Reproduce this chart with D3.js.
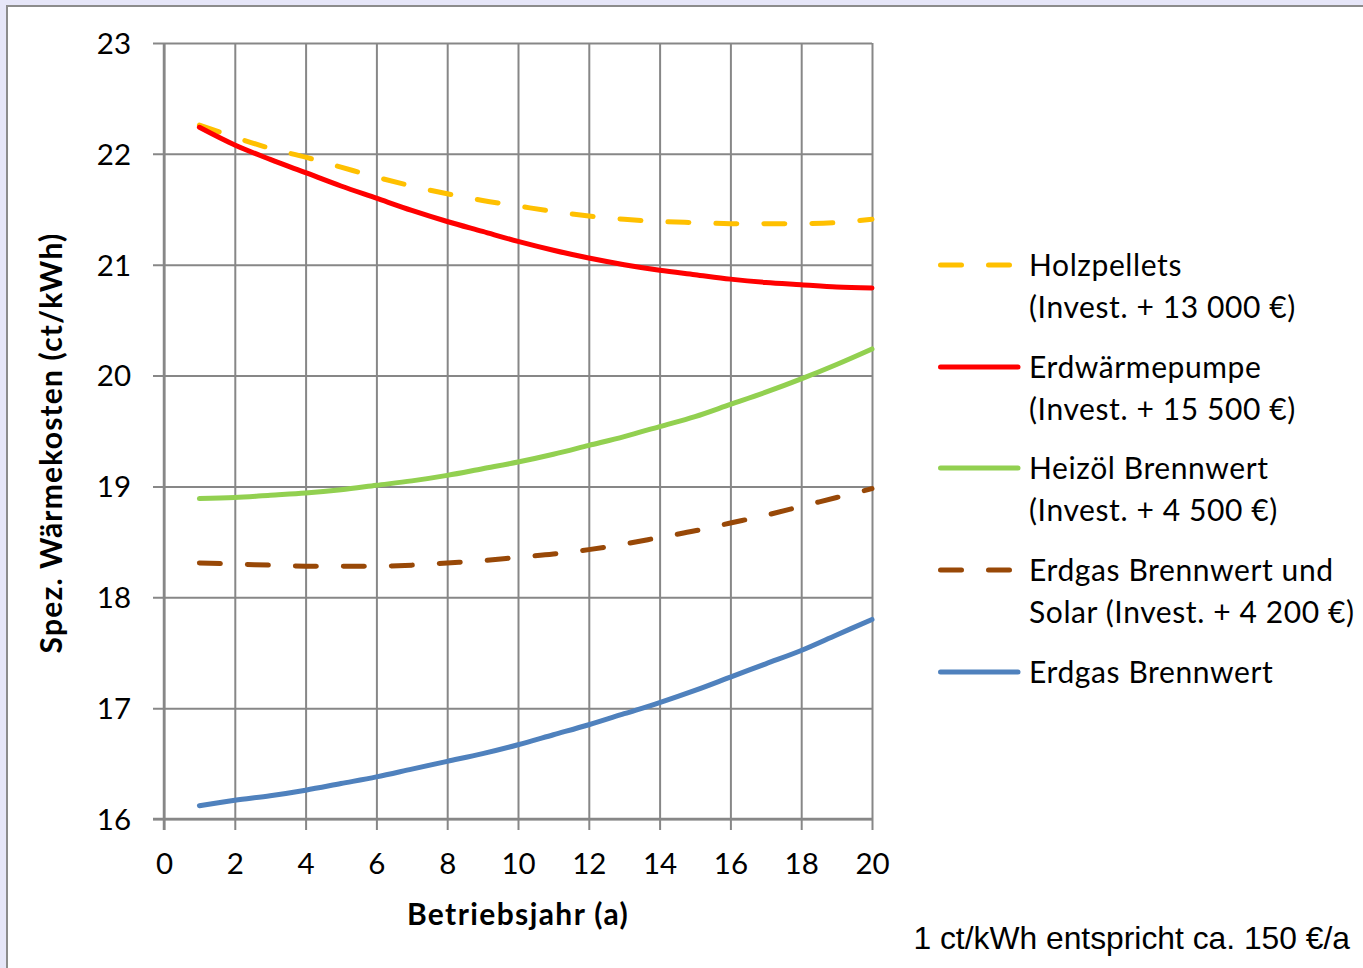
<!DOCTYPE html>
<html>
<head>
<meta charset="utf-8">
<script src="https://cdn.jsdelivr.net/npm/d3@7/dist/d3.min.js"></script>
<style>
  html, body { margin: 0; padding: 0; background: #e6e6f8; }
  svg { display: block; }
</style>
</head>
<body>
<svg id="chart" width="1363" height="968"></svg>
<script>
// Operating year (a)
const years = [1, 2, 3, 4, 5, 6, 7, 8, 9, 10, 11, 12, 13, 14, 15, 16, 17, 18, 19, 20];

// Specific heat cost (ct/kWh) per system
const holzpellets   = [22.26, 22.15, 22.05, 21.97, 21.88, 21.79, 21.71, 21.64, 21.58, 21.53,
                       21.48, 21.44, 21.41, 21.39, 21.38, 21.37, 21.37, 21.37, 21.38, 21.41];
const erdwaerme     = [22.24, 22.08, 21.95, 21.83, 21.71, 21.60, 21.49, 21.39, 21.30, 21.21,
                       21.13, 21.06, 21.00, 20.95, 20.91, 20.87, 20.84, 20.82, 20.80, 20.79];
const heizoel       = [18.89, 18.90, 18.92, 18.94, 18.97, 19.01, 19.05, 19.10, 19.16, 19.22,
                       19.29, 19.37, 19.45, 19.54, 19.63, 19.74, 19.85, 19.97, 20.10, 20.24];
const erdgasSolar   = [18.31, 18.30, 18.29, 18.28, 18.28, 18.28, 18.29, 18.31, 18.33, 18.36,
                       18.39, 18.43, 18.48, 18.54, 18.60, 18.67, 18.74, 18.82, 18.90, 18.98];
const erdgas        = [16.12, 16.17, 16.21, 16.26, 16.32, 16.38, 16.45, 16.52, 16.59, 16.67,
                       16.76, 16.85, 16.95, 17.05, 17.16, 17.28, 17.40, 17.52, 17.66, 17.80];

// Legend entries (each may span two lines)
const seriesNames = [
  ["Holzpellets", "(Invest. + 13 000 €)"],
  ["Erdwärmepumpe", "(Invest. + 15 500 €)"],
  ["Heizöl Brennwert", "(Invest. + 4 500 €)"],
  ["Erdgas Brennwert und", "Solar (Invest. + 4 200 €)"],
  ["Erdgas Brennwert"]
];

const xTicks = [0, 2, 4, 6, 8, 10, 12, 14, 16, 18, 20];
const yTicks = [16, 17, 18, 19, 20, 21, 22, 23];

const xTitle = "Betriebsjahr (a)";
const yTitle = "Spez. Wärmekosten (ct/kWh)";
const note = "1 ct/kWh entspricht ca. 150 €/a";

const series = [
  { values: holzpellets, color: "#ffc000", dashed: true },
  { values: erdwaerme,   color: "#ff0000", dashed: false },
  { values: heizoel,     color: "#92d050", dashed: false },
  { values: erdgasSolar, color: "#984807", dashed: true },
  { values: erdgas,      color: "#4f81bd", dashed: false }
];

const W = 1363, H = 968;
const plot = { left: 164, right: 872, top: 43, bottom: 819 };
const gridColor = "#878787";
const font = "Lato, 'Noto Sans', sans-serif";

const svg = d3.select("#chart");

// Page frame
svg.append("rect").attr("x", 0).attr("y", 0).attr("width", W).attr("height", H).attr("fill", "#e6e6f8");
svg.append("rect").attr("x", 7).attr("y", 6).attr("width", W + 20).attr("height", H + 20)
  .attr("fill", "#ffffff").attr("stroke", "#8c8c8c").attr("stroke-width", 2);

const x = d3.scaleLinear().domain([0, 20]).range([plot.left, plot.right]);
const y = d3.scaleLinear().domain([16, 23]).range([plot.bottom, plot.top]);

// Horizontal gridlines with left tick marks
const yAxis = d3.axisLeft(y).tickValues(yTicks).tickSize(plot.right - plot.left + 11).tickPadding(22)
  .tickFormat(d3.format("d"));
const gy = svg.append("g").attr("transform", `translate(${plot.right},0)`).call(yAxis);
gy.select(".domain").remove();
gy.selectAll(".tick line").attr("stroke", gridColor).attr("stroke-width", 2);
gy.selectAll(".tick text").attr("font-family", font).attr("font-size", 29.5).attr("fill", "#000")
  .attr("x", -(plot.right - 131)).attr("dy", "0.35em");

// Vertical gridlines with bottom tick marks
const xAxis = d3.axisBottom(x).tickValues(xTicks).tickSize(plot.bottom - plot.top + 11).tickPadding(0)
  .tickFormat(d3.format("d"));
const gx = svg.append("g").attr("transform", `translate(0,${plot.top})`).call(xAxis);
gx.select(".domain").remove();
gx.selectAll(".tick line").attr("stroke", gridColor).attr("stroke-width", 2);
gx.selectAll(".tick text").attr("font-family", font).attr("font-size", 29.5).attr("fill", "#000")
  .attr("y", 864 - plot.top).attr("dy", "0.35em");

// Axis lines (left and bottom)
svg.append("line").attr("x1", plot.left).attr("x2", plot.left).attr("y1", plot.top).attr("y2", plot.bottom + 11)
  .attr("stroke", gridColor).attr("stroke-width", 2.5);
svg.append("line").attr("x1", plot.left - 11).attr("x2", plot.right).attr("y1", plot.bottom).attr("y2", plot.bottom)
  .attr("stroke", gridColor).attr("stroke-width", 2.5);

// Smoothed series lines
const line = d3.line()
  .x((d, i) => x(years[i]))
  .y(d => y(d))
  .curve(d3.curveCatmullRom.alpha(0.5));

svg.append("g").selectAll("path").data(series).join("path")
  .attr("d", d => line(d.values))
  .attr("fill", "none")
  .attr("stroke", d => d.color)
  .attr("stroke-width", 5)
  .attr("stroke-linecap", "round")
  .attr("stroke-linejoin", "round")
  .attr("stroke-dasharray", d => d.dashed ? "21,27" : null);

// Axis titles
svg.append("text").attr("x", 518).attr("y", 925).attr("text-anchor", "middle")
  .attr("font-family", font).attr("font-size", 30).attr("font-weight", "bold")
  .attr("letter-spacing", 1.4).text(xTitle);
svg.append("text").attr("transform", "translate(62,443) rotate(-90)").attr("text-anchor", "middle")
  .attr("font-family", font).attr("font-size", 30).attr("font-weight", "bold")
  .attr("letter-spacing", 1.2).text(yTitle);

// Legend
const legendY = [265, 367, 468, 570, 672];
const lg = svg.append("g");
series.forEach((s, i) => {
  const cy = legendY[i];
  lg.append("line").attr("x1", 940.5).attr("x2", 1018).attr("y1", cy).attr("y2", cy)
    .attr("stroke", s.color).attr("stroke-width", 5).attr("stroke-linecap", "round")
    .attr("stroke-dasharray", s.dashed ? "21,27" : null);
  seriesNames[i].forEach((t, j) => {
    lg.append("text").attr("x", 1029).attr("y", cy + 42 * j).attr("dy", "0.35em")
      .attr("font-family", font).attr("font-size", 30).attr("letter-spacing", 0.6)
      .attr("fill", "#000").text(t);
  });
});

// Conversion note
svg.append("text").attr("x", 1350).attr("y", 949).attr("text-anchor", "end")
  .attr("font-family", "'Liberation Sans', Arial, sans-serif").attr("font-size", 31.8).attr("fill", "#000")
  .text(note);
</script>
</body>
</html>
